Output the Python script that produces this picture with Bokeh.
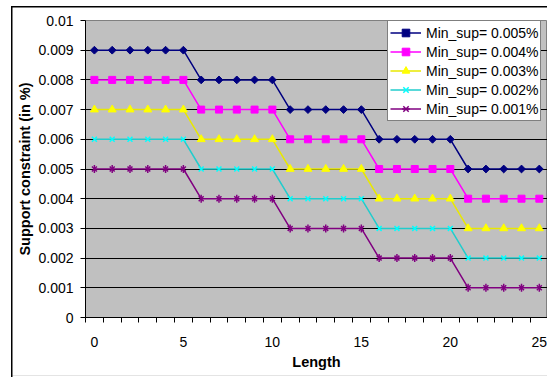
import numpy as np
from bokeh.plotting import figure
from bokeh.models import Range1d, FixedTicker, Legend, LegendItem
from bokeh.embed import file_html
from bokeh.resources import INLINE

# ---- data ----
length = [0, 1, 2, 3, 4, 5, 6, 7, 8, 9, 10, 11, 12, 13, 14, 15, 16, 17, 18, 19, 20, 21, 22, 23, 24, 25]

sup_0005 = [0.009, 0.009, 0.009, 0.009, 0.009, 0.009,
            0.008, 0.008, 0.008, 0.008, 0.008,
            0.007, 0.007, 0.007, 0.007, 0.007,
            0.006, 0.006, 0.006, 0.006, 0.006,
            0.005, 0.005, 0.005, 0.005, 0.005]
sup_0004 = [0.008, 0.008, 0.008, 0.008, 0.008, 0.008,
            0.007, 0.007, 0.007, 0.007, 0.007,
            0.006, 0.006, 0.006, 0.006, 0.006,
            0.005, 0.005, 0.005, 0.005, 0.005,
            0.004, 0.004, 0.004, 0.004, 0.004]
sup_0003 = [0.007, 0.007, 0.007, 0.007, 0.007, 0.007,
            0.006, 0.006, 0.006, 0.006, 0.006,
            0.005, 0.005, 0.005, 0.005, 0.005,
            0.004, 0.004, 0.004, 0.004, 0.004,
            0.003, 0.003, 0.003, 0.003, 0.003]
sup_0002 = [0.006, 0.006, 0.006, 0.006, 0.006, 0.006,
            0.005, 0.005, 0.005, 0.005, 0.005,
            0.004, 0.004, 0.004, 0.004, 0.004,
            0.003, 0.003, 0.003, 0.003, 0.003,
            0.002, 0.002, 0.002, 0.002, 0.002]
sup_0001 = [0.005, 0.005, 0.005, 0.005, 0.005, 0.005,
            0.004, 0.004, 0.004, 0.004, 0.004,
            0.003, 0.003, 0.003, 0.003, 0.003,
            0.002, 0.002, 0.002, 0.002, 0.002,
            0.001, 0.001, 0.001, 0.001, 0.001]

series_labels = ["Min_sup= 0.005%", "Min_sup= 0.004%", "Min_sup= 0.003%",
                 "Min_sup= 0.002%", "Min_sup= 0.001%"]

x_tick_values = [0, 5, 10, 15, 20, 25]
x_tick_labels = ["0", "5", "10", "15", "20", "25"]
y_tick_values = [0, 0.001, 0.002, 0.003, 0.004, 0.005, 0.006, 0.007, 0.008, 0.009, 0.01]
y_tick_labels = ["0", "0.001", "0.002", "0.003", "0.004", "0.005",
                 "0.006", "0.007", "0.008", "0.009", "0.01"]

FONT = "Liberation Sans"

p = figure(width=547, height=377, output_backend="svg", toolbar_location=None,
           x_range=Range1d(-0.5, 25.46), y_range=Range1d(0, 0.01),
           min_border_left=85, min_border_right=0, min_border_top=20, min_border_bottom=60)

# outer chart border (drawn behind the transparent canvas border area)
p.border_fill_alpha = 0
p.styles = {
    "background": (
        "linear-gradient(#000,#000) 11px 6px / 1.5px calc(100% - 6px) no-repeat, "
        "linear-gradient(#000,#000) 11px 6px / calc(100% - 11px) 1.5px no-repeat, "
        "linear-gradient(#e4e4e4,#e4e4e4) 11px 375px / calc(100% - 11px) 1px no-repeat, "
        "#ffffff"
    )
}

p.background_fill_color = "#C0C0C0"
p.outline_line_color = "#808080"
p.xgrid.visible = False
p.ygrid.ticker = FixedTicker(ticks=y_tick_values)
p.ygrid.grid_line_color = "black"
p.ygrid.grid_line_width = 1

# y axis
ya = p.yaxis[0]
ya.ticker = FixedTicker(ticks=y_tick_values)
ya.major_label_overrides = {v: l for v, l in zip(y_tick_values, y_tick_labels)}
ya.major_tick_out = 5
ya.major_tick_in = 0
ya.minor_tick_out = 0
ya.minor_tick_in = 0
ya.axis_line_color = "black"
ya.major_tick_line_color = "black"
ya.major_label_standoff = 7
ya.major_label_text_font = FONT
ya.major_label_text_font_size = "14px"
ya.major_label_text_color = "black"
ya.axis_label = "Support constraint (in %)"
ya.axis_label_text_font = FONT
ya.axis_label_text_font_size = "14.5px"
ya.axis_label_text_font_style = "bold"
ya.axis_label_text_color = "black"
ya.axis_label_standoff = 2

# x axis
xa = p.xaxis[0]
xa.ticker = FixedTicker(ticks=x_tick_values,
                        minor_ticks=[k - 0.5 for k in range(27)])
xa.major_label_overrides = {v: l for v, l in zip(x_tick_values, x_tick_labels)}
xa.major_tick_out = 0
xa.major_tick_in = 0
xa.minor_tick_out = 5
xa.minor_tick_in = 0
xa.minor_tick_line_color = "black"
xa.axis_line_color = "black"
xa.major_label_standoff = 14
xa.major_label_text_font = FONT
xa.major_label_text_font_size = "14px"
xa.major_label_text_color = "black"
xa.axis_label = "Length"
xa.axis_label_text_font = FONT
xa.axis_label_text_font_size = "14.5px"
xa.axis_label_text_font_style = "bold"
xa.axis_label_text_color = "black"
xa.axis_label_standoff = 4

items = []

# series 1: navy diamonds
l1 = p.line(length, sup_0005, line_color="#000080", line_width=1.5)
m1 = p.scatter(length, sup_0005, marker="square", angle=np.pi / 4, size=5.5,
               fill_color="#000080", line_color="#000080")
items.append(LegendItem(label=series_labels[0], renderers=[l1, m1]))

# series 2: magenta squares
l2 = p.line(length, sup_0004, line_color="#FF00FF", line_width=1.5)
m2 = p.scatter(length, sup_0004, marker="square", size=7,
               fill_color="#FF00FF", line_color="#FF00FF")
items.append(LegendItem(label=series_labels[1], renderers=[l2, m2]))

# series 3: yellow triangles
l3 = p.line(length, sup_0003, line_color="#E8E800", line_width=1.5)
m3 = p.scatter(length, sup_0003, marker="triangle", size=8,
               fill_color="#FFFF00", line_color="#FFFF00")
items.append(LegendItem(label=series_labels[2], renderers=[l3, m3]))

# series 4: cyan x
l4 = p.line(length, sup_0002, line_color="#22CCCC", line_width=1.5)
m4 = p.scatter(length, sup_0002, marker="x", size=7,
               line_color="#00FFFF", line_width=1.5)
items.append(LegendItem(label=series_labels[3], renderers=[l4, m4]))

# series 5: purple asterisk (x + vertical bar)
l5 = p.line(length, sup_0001, line_color="#800080", line_width=1.5)
m5a = p.scatter(length, sup_0001, marker="x", size=7,
                line_color="#800080", line_width=1.5)
m5b = p.scatter(length, sup_0001, marker="dash", angle=np.pi / 2, size=8,
                line_color="#800080", line_width=1.5)
items.append(LegendItem(label=series_labels[4], renderers=[l5, m5a, m5b]))

legend = Legend(items=items, location=(302, 196))
legend.label_text_font = FONT
legend.label_text_font_size = "14px"
legend.label_text_color = "black"
legend.glyph_width = 31
legend.glyph_height = 19
legend.label_height = 19
legend.label_standoff = 5
legend.padding = 2
legend.spacing = 0
legend.margin = 0
legend.border_line_color = "black"
legend.border_line_width = 1
legend.background_fill_color = "white"
legend.background_fill_alpha = 1
p.add_layout(legend, "center")

open("out.html", "w").write(file_html(p, INLINE))
